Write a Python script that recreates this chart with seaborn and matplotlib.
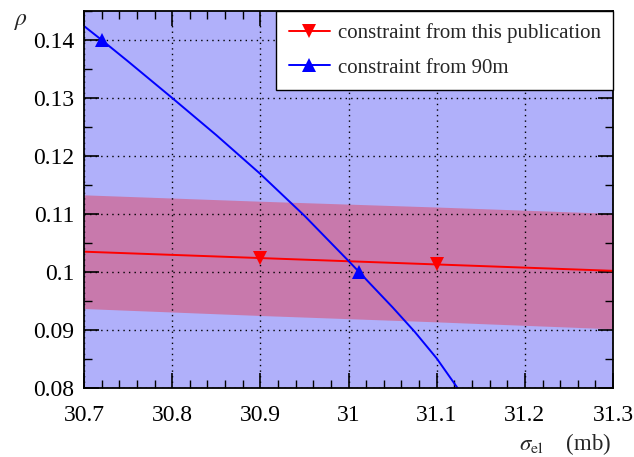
import numpy as np
import pandas as pd
import matplotlib
matplotlib.use("Agg")
import matplotlib.pyplot as plt
import seaborn as sns
from matplotlib.ticker import MultipleLocator

# constraint from this publication (line + band)
sigma_pub = [30.7, 30.9, 31.1, 31.3]
rho_pub = [0.1035, 0.1024, 0.1013, 0.1002]
rho_pub_hi = [0.1133, 0.1122, 0.1112, 0.1101]
rho_pub_lo = [0.0937, 0.0925, 0.0914, 0.0902]

# constraint from 90m
sigma_90m = [30.70, 30.72, 30.75, 30.80, 30.85, 30.90, 30.95, 31.00, 31.012,
             31.025, 31.05, 31.075, 31.10, 31.125]
rho_90m = [0.1424, 0.1400, 0.1363, 0.1300, 0.1236, 0.1169, 0.1097, 0.1019, 0.1000,
           0.0979, 0.0939, 0.0897, 0.0851, 0.0797]

labels = ["constraint from this publication", "constraint from 90m"]
xtick_labels = ["30.7", "30.8", "30.9", "31", "31.1", "31.2", "31.3"]
ytick_labels = ["0.08", "0.09", "0.1", "0.11", "0.12", "0.13", "0.14"]

sns.set_style("ticks")
plt.rcParams['font.family'] = ['Liberation Serif', 'DejaVu Serif']
plt.rcParams['mathtext.fontset'] = 'stix'

df_pub = pd.DataFrame({"sigma": sigma_pub, "rho": rho_pub, "hi": rho_pub_hi, "lo": rho_pub_lo})
df_90m = pd.DataFrame({"sigma": sigma_90m, "rho": rho_90m})

fig = plt.figure(figsize=(6.34, 4.57), dpi=100)
ax = fig.add_axes([0.1325, 0.151, 0.8345, 0.825])
ax.set_facecolor('#b0b0fa')

# band of this publication over the (full-range) 90m band
ax.fill_between(df_pub["sigma"], df_pub["lo"], df_pub["hi"], color='red', alpha=0.31, lw=0, zorder=1)

sns.lineplot(data=df_pub, x="sigma", y="rho", ax=ax, color='red', lw=1.4,
             marker='v', markersize=10, markevery=[1, 2], markeredgewidth=0,
             label=labels[0], zorder=3)
sns.lineplot(data=df_90m, x="sigma", y="rho", ax=ax, color='blue', lw=1.4,
             marker='^', markersize=10, markevery=[1, 8], markeredgewidth=0,
             label=labels[1], zorder=3)

ax.set_xlim(30.7, 31.3)
ax.set_ylim(0.08, 0.145)
ax.xaxis.set_minor_locator(MultipleLocator(0.02))
ax.yaxis.set_minor_locator(MultipleLocator(0.005))
ax.set_xticks(np.round(np.arange(30.7, 31.31, 0.1), 1))
ax.set_xticklabels(xtick_labels)
ax.set_yticks(np.round(np.arange(0.08, 0.141, 0.01), 2))
ax.set_yticklabels(ytick_labels)

ax.tick_params(which='both', direction='in', top=True, right=True, colors='black', labelsize=17)
ax.tick_params(axis='x', which='major', length=11, width=1.2, pad=12)
ax.tick_params(axis='y', which='major', length=11, width=1.2, pad=7)
ax.tick_params(which='minor', length=5.5, width=1.0)
ax.grid(True, which='major', color='black', linestyle=(0, (1, 3)), linewidth=1.0, zorder=2)
ax.set_axisbelow(False)
for s in ax.spines.values():
    s.set_linewidth(1.3)
    s.set_color('black')
    s.set_zorder(5)

ax.set_xlabel('')
ax.set_ylabel('')

leg = ax.legend(loc='upper right', bbox_to_anchor=(1.0, 1.0), borderaxespad=0,
                fontsize=15, frameon=True, fancybox=False, framealpha=1,
                edgecolor='black', handlelength=2.0, handletextpad=0.35,
                borderpad=0.6, labelspacing=0.7)
leg.get_frame().set_linewidth(1.0)
leg.set_zorder(6)

fig.text(14 / 634, 1 - 21 / 457, r'$\rho$', fontsize=17, ha='left', va='center')
fig.text(611 / 634, 1 - 450 / 457, r'$\sigma_{\mathrm{el}}$    (mb)', fontsize=16.5, ha='right', va='baseline')

fig.savefig('out.png', dpi=100)
